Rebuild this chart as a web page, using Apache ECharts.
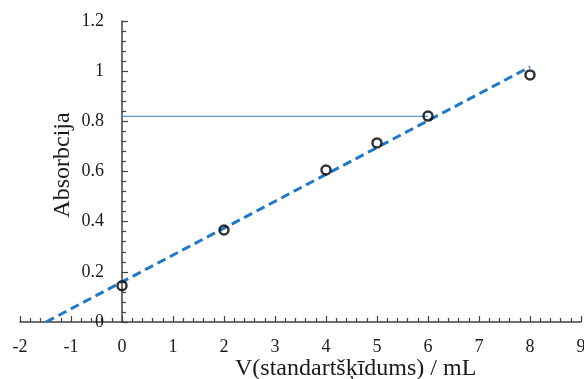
<!DOCTYPE html>
<html>
<head>
<meta charset="utf-8">
<script src="https://cdn.jsdelivr.net/npm/echarts@6/dist/echarts.min.js"></script>
<style>html,body{margin:0;padding:0;background:#fff}#c{width:584px;height:379px}</style>
</head>
<body>
<div id="c"></div>
<script>
// Data
const volumes = [0, 2, 4, 5, 6, 8];
const absorbance = [0.145, 0.367, 0.606, 0.714, 0.821, 0.985];
const trendX = [-1.49, 8];
const trendY = [0, 1.017];
const refLineX = [0, 6];
const refLineY = [0.82, 0.82];
const xTitle = 'V(standartšķīdums) / mL';
const yTitle = 'Absorbcija';

const font = 'Liberation Serif';
const axisColor = '#404040';
const W = 584, gridLeft = 20, gridRight = 3;
const xMin = -2, xMax = 9;
const yAxisOffset = -((0 - xMin) / (xMax - xMin)) * (W - gridLeft - gridRight);

const chart = echarts.init(document.getElementById('c'), null, {renderer: 'canvas'});
chart.setOption({
  animation: false,
  backgroundColor: '#fff',
  grid: {left: gridLeft, right: gridRight, top: 21, bottom: 57, containLabel: false, outerBoundsMode: 'none'},
  xAxis: {
    type: 'value', min: xMin, max: xMax, interval: 1,
    axisLine: {onZero: false, lineStyle: {color: axisColor, width: 1.5}},
    axisTick: {inside: true, length: 6, lineStyle: {color: axisColor, width: 1.2}},
    minorTick: {show: true, splitNumber: 5, length: 4, lineStyle: {color: axisColor, width: 1.2}},
    splitLine: {show: false},
    axisLabel: {fontFamily: font, fontSize: 18, color: '#1a1a1a', margin: 16}
  },
  yAxis: {
    type: 'value', min: 0, max: 1.2, interval: 0.2,
    offset: yAxisOffset,
    axisLine: {onZero: false, lineStyle: {color: axisColor, width: 1.5}},
    axisTick: {inside: true, length: 6, lineStyle: {color: axisColor, width: 1.2}},
    minorTick: {show: true, splitNumber: 5, length: 4, lineStyle: {color: axisColor, width: 1.2}},
    splitLine: {show: false},
    axisLabel: {fontFamily: font, fontSize: 18, color: '#1a1a1a', margin: 18}
  },
  graphic: [
    {type: 'text', left: 235, top: 357, style: {text: xTitle, font: '24px "Liberation Serif"', fill: '#1a1a1a'}},
    {type: 'text', x: 63, y: 165, rotation: Math.PI / 2, style: {text: yTitle, font: '24px "Liberation Serif"', fill: '#1a1a1a', align: 'center', verticalAlign: 'middle'}}
  ],
  series: [
    {
      type: 'line', data: refLineX.map((x, i) => [x, refLineY[i]]),
      symbol: 'none', lineStyle: {color: '#5b9bd5', width: 1.2}, z: 2
    },
    {
      type: 'line', data: trendX.map((x, i) => [x, trendY[i]]),
      symbol: 'none', lineStyle: {color: '#1f78c8', width: 3, type: [9, 5]}, z: 3
    },
    {
      type: 'scatter', data: volumes.map((x, i) => [x, absorbance[i]]),
      symbol: 'circle', symbolSize: 9,
      itemStyle: {color: 'rgba(0,0,0,0)', borderColor: '#000', borderWidth: 2.5}, z: 4
    }
  ]
});
</script>
</body>
</html>
